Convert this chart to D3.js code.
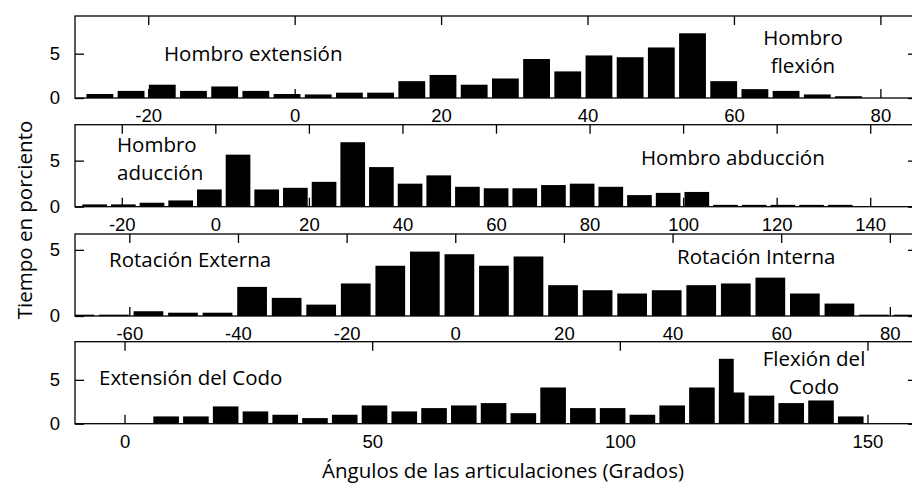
<!DOCTYPE html>
<html>
<head>
<meta charset="utf-8">
<script src="https://cdn.jsdelivr.net/npm/d3@7"></script>
<style>
  body { margin: 0; background: #fff; }
  svg { display: block; }
</style>
</head>
<body>
<script>
// histogram values (tiempo en porciento)
const shoulderFlexVals = [0.45, 0.8, 1.5, 0.8, 1.3, 0.8, 0.45, 0.4, 0.6, 0.6, 1.9, 2.6, 1.5, 2.2, 4.4, 3.0, 4.8, 4.6, 5.7, 7.3, 1.9, 1.0, 0.8, 0.4, 0.2];
const shoulderAbdVals = [0.25, 0.25, 0.43, 0.68, 1.87, 5.65, 1.87, 2.05, 2.7, 7.0, 4.3, 2.5, 3.4, 2.16, 2.0, 2.0, 2.35, 2.5, 2.16, 1.26, 1.5, 1.6, 0.2, 0.2, 0.2, 0.2, 0.2];
const rotationVals = [0.1, 0.1, 0.36, 0.25, 0.25, 2.2, 1.37, 0.86, 2.46, 3.8, 4.87, 4.67, 3.8, 4.5, 2.33, 1.95, 1.7, 1.95, 2.33, 2.46, 2.9, 1.7, 0.94, 0.1, 0.1];
const elbowVals = [0.83, 0.83, 1.97, 1.4, 1.02, 0.64, 1.02, 2.08, 1.4, 1.78, 2.08, 2.35, 1.2, 4.13, 1.78, 1.78, 1.02, 2.08, 4.13, 3.56, 3.2, 2.35, 2.65, 0.83];
// narrow peak that sits over the 20th elbow bin
const elbowPeak = [{x0: 120, x1: 123, v: 7.4}];

// first bin centre and bin width (grados)
const shoulderFlexBins = [-26.6, 4.26];
const shoulderAbdBins = [-25.8, 6.13];
const rotationBins = [-69.2, 6.36];
const elbowBins = [8.4, 6.01];

// axis limits
const shoulderFlexX = [-30, 85], shoulderFlexY = [0, 9.25];
const shoulderAbdX = [-30, 150], shoulderAbdY = [0, 8.9];
const rotationX = [-70, 85], rotationY = [0, 6.2];
const elbowX = [-10, 160], elbowY = [0, 9.35];

const shoulderFlexTicks = [-20, 0, 20, 40, 60, 80];
const shoulderAbdTicks = [-20, 0, 20, 40, 60, 80, 100, 120, 140];
const rotationTicks = [-60, -40, -20, 0, 20, 40, 60, 80];
const elbowTicks = [0, 50, 100, 150];
const yTicks = [0, 5];

const W = 912, H = 485;
const left = 75, right = 917, ph = 82;
const tops = [16, 124.7, 234, 341.7];
const textFont = "'Open Sans', sans-serif";
const textSize = 20.5;
const tickFont = "'Liberation Sans', Arial, sans-serif";

const svg = d3.select('body').append('svg')
  .attr('width', W).attr('height', H);

const panels = [
  {vals: shoulderFlexVals, bins: shoulderFlexBins, xd: shoulderFlexX, yd: shoulderFlexY, ticks: shoulderFlexTicks,
   notes: [{t: 'Hombro extensión', x: 164, y: 61},
           {t: 'Hombro', x: 803, y: 45, mid: true}, {t: 'flexión', x: 803, y: 72.5, mid: true}]},
  {vals: shoulderAbdVals, bins: shoulderAbdBins, xd: shoulderAbdX, yd: shoulderAbdY, ticks: shoulderAbdTicks,
   notes: [{t: 'Hombro', x: 117, y: 152}, {t: 'aducción', x: 117, y: 180},
           {t: 'Hombro abducción', x: 641, y: 165}]},
  {vals: rotationVals, bins: rotationBins, xd: rotationX, yd: rotationY, ticks: rotationTicks,
   notes: [{t: 'Rotación Externa', x: 109, y: 267}, {t: 'Rotación Interna', x: 677, y: 264}]},
  {vals: elbowVals, bins: elbowBins, xd: elbowX, yd: elbowY, ticks: elbowTicks, peak: elbowPeak,
   notes: [{t: 'Extensión del Codo', x: 99, y: 385},
           {t: 'Flexión del', x: 814, y: 366, mid: true}, {t: 'Codo', x: 814, y: 394, mid: true}]}
];

panels.forEach((p, k) => {
  const g = svg.append('g').attr('transform', `translate(0,${tops[k]})`);
  const x = d3.scaleLinear().domain(p.xd).range([left, right]);
  const y = d3.scaleLinear().domain(p.yd).range([ph, 0]);

  g.append('clipPath').attr('id', 'clip' + k)
    .append('rect').attr('x', left).attr('y', 0).attr('width', right - left).attr('height', ph);

  const bars = g.append('g').attr('clip-path', `url(#clip${k})`);
  const bw = p.bins[1] * 0.86;
  bars.selectAll('rect.bar')
    .data(p.vals)
    .enter().append('rect')
    .attr('class', 'bar')
    .attr('x', (d, i) => x(p.bins[0] + i * p.bins[1] - bw / 2))
    .attr('width', x(bw) - x(0))
    .attr('y', d => y(d))
    .attr('height', d => y(0) - y(d))
    .attr('fill', '#000');
  if (p.peak) {
    bars.selectAll('rect.peak')
      .data(p.peak)
      .enter().append('rect')
      .attr('class', 'peak')
      .attr('x', d => x(d.x0))
      .attr('width', d => x(d.x1) - x(d.x0))
      .attr('y', d => y(d.v))
      .attr('height', d => y(0) - y(d.v))
      .attr('fill', '#000');
  }

  const bottom = g.append('g').attr('transform', `translate(0,${ph})`)
    .call(d3.axisBottom(x).tickValues(p.ticks).tickSizeInner(-9).tickSizeOuter(0).tickPadding(11)
      .tickFormat(d => d < 0 ? '-' + Math.abs(d) : d));
  const top = g.append('g')
    .call(d3.axisTop(x).tickValues(p.ticks).tickSizeInner(-9).tickSizeOuter(0).tickFormat(''));
  const lAx = g.append('g').attr('transform', `translate(${left},0)`)
    .call(d3.axisLeft(y).tickValues(yTicks).tickSizeInner(-9).tickSizeOuter(0).tickPadding(15).tickFormat(d3.format('d')));
  const rAx = g.append('g').attr('transform', `translate(${right},0)`)
    .call(d3.axisRight(y).tickValues(yTicks).tickSizeInner(-9).tickSizeOuter(0).tickFormat(''));

  [bottom, top, lAx, rAx].forEach(a => {
    a.select('.domain').remove();
    a.selectAll('line').attr('stroke', '#000').attr('stroke-width', 1.3);
    a.selectAll('text').attr('font-family', tickFont).attr('font-size', 18.5).attr('fill', '#000');
  });

  g.append('rect')
    .attr('x', left).attr('y', 0).attr('width', right - left).attr('height', ph)
    .attr('fill', 'none').attr('stroke', '#000').attr('stroke-width', 1.3);

  svg.selectAll(null)
    .data(p.notes)
    .enter().append('text')
    .attr('x', d => d.x).attr('y', d => d.y)
    .attr('text-anchor', d => d.mid ? 'middle' : 'start')
    .attr('font-family', textFont).attr('font-size', textSize)
    .attr('fill', '#000')
    .text(d => d.t);
});

svg.append('text')
  .attr('x', 503).attr('y', 478)
  .attr('text-anchor', 'middle')
  .attr('font-family', textFont).attr('font-size', textSize)
  .text('Ángulos de las articulaciones (Grados)');

svg.append('text')
  .attr('transform', 'translate(32,220) rotate(-90)')
  .attr('text-anchor', 'middle')
  .attr('font-family', textFont).attr('font-size', textSize)
  .text('Tiempo en porciento');
</script>
</body>
</html>
